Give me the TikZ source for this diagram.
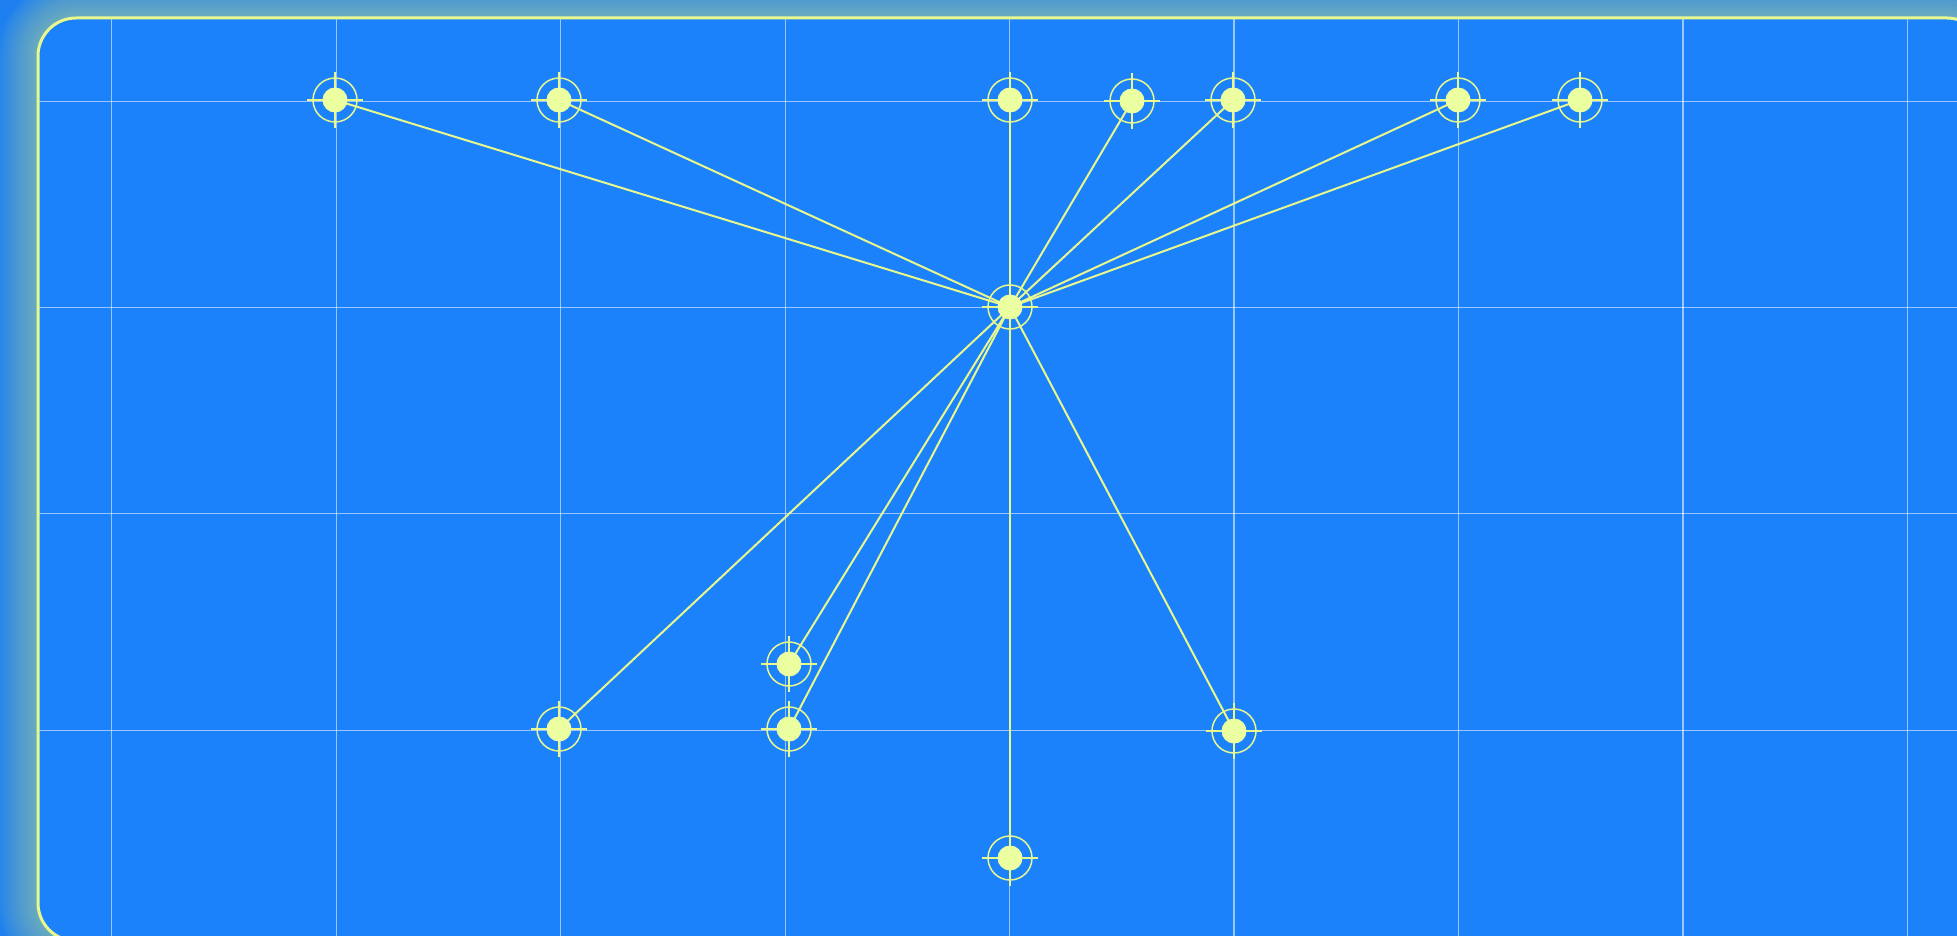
\documentclass[tikz,border=0pt]{standalone}
\pgfdeclarelayer{back}
\pgfdeclarelayer{bg}
\pgfsetlayers{back,bg,main}
\definecolor{outerblue}{RGB}{30,128,240}
\definecolor{innerblue}{RGB}{28,130,252}
\definecolor{glowc}{RGB}{225,245,140}
\definecolor{linec}{RGB}{232,248,140}
\definecolor{discc}{RGB}{236,255,160}
\tikzset{
  x=1pt,y=-1pt,
  disc/.style={circle,fill=discc,draw=none,minimum size=25pt,inner sep=0pt},
  spoke/.style={draw=linec,line width=2pt},
  ring/.style={draw=linec,line width=1.5pt},
  cross/.style={draw=linec,line width=1.1pt},
  gridl/.style={draw=white,draw opacity=0.55,line width=1.2pt},
  frame/.style={draw=linec,line width=3pt,rounded corners=38pt}
}
\begin{document}
\begin{tikzpicture}
\useasboundingbox (0,0) rectangle (1957,936);
% nodes
\node[disc] (c) at (1010,307) {};
\node[disc] (t1) at (335,100) {};
\node[disc] (t2) at (559,100) {};
\node[disc] (t3) at (1010,100) {};
\node[disc] (t4) at (1132,101) {};
\node[disc] (t5) at (1233,100) {};
\node[disc] (t6) at (1458,100) {};
\node[disc] (t7) at (1580,100) {};
\node[disc] (b1) at (789,664) {};
\node[disc] (b2) at (559,729) {};
\node[disc] (b3) at (789,729) {};
\node[disc] (b4) at (1234,731) {};
\node[disc] (b5) at (1010,858) {};
\begin{pgfonlayer}{back}
\clip (0,0) rectangle (1957,936);
\fill[outerblue] (0,0) rectangle (1957,936);
\foreach \r in {40,38,...,2}{
  \fill[glowc,fill opacity=0.026,rounded corners=38pt+\r pt] (38-\r,18-\r) rectangle (1985+\r,941+\r);
}
\fill[innerblue,rounded corners=38pt] (38,18) rectangle (1985,941);
\begin{scope}
\clip[rounded corners=38pt] (38,18) rectangle (1985,941);
\foreach \gx in {111.7,336.2,560.6,785.1,1009.5,1234,1458.4,1682.9,1907.3}
  \draw[gridl] (\gx,18) -- (\gx,941);
\foreach \gy in {101.7,307.3,513.3,730.3}
  \draw[gridl] (38,\gy) -- (1985,\gy);
\end{scope}
\draw[frame] (38,18) rectangle (1985,941);
\end{pgfonlayer}
\begin{pgfonlayer}{bg}
\foreach \n in {t1,t2,t3,t4,t5,t6,t7,b1,b2,b3,b4,b5}
  \draw[spoke] (c.center) -- (\n.center);
\foreach \n in {c,t1,t2,t3,t4,t5,t6,t7,b1,b2,b3,b4,b5}{
  \draw[ring] (\n.center) circle (22);
  \draw[cross] ([xshift=-28pt]\n.center) -- ([xshift=28pt]\n.center);
  \draw[cross] ([yshift=-28pt]\n.center) -- ([yshift=28pt]\n.center);
}
\end{pgfonlayer}
\end{tikzpicture}
\end{document}
